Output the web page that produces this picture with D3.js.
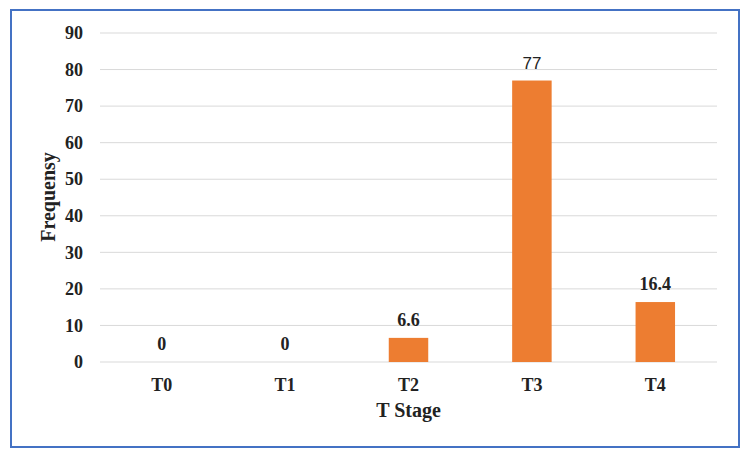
<!DOCTYPE html>
<html lang="en">
<head>
    <meta charset="UTF-8">
    <title>T Stage Frequency</title>
    <script src="https://d3js.org/d3.v7.min.js"></script>
    <style>
        body { margin: 0; background: #fff; }
        text { font-family: "Liberation Serif", "Times New Roman", serif; font-weight: bold; fill: #222; }
    </style>
</head>
<body>
<svg width="750" height="460"></svg>
<script type="text/javascript">
    // data
    var categories = ["T0", "T1", "T2", "T3", "T4"];
    var values = [0, 0, 6.6, 77, 16.4];
    var labels = ["0", "0", "6.6", "77", "16.4"];
    var yTicks = [0, 10, 20, 30, 40, 50, 60, 70, 80, 90];

    var svg = d3.select("svg");

    // outer frame
    svg.append("rect")
        .attr("x", 11).attr("y", 10)
        .attr("width", 728).attr("height", 437)
        .attr("fill", "none")
        .attr("stroke", "#4472C4")
        .attr("stroke-width", 2);

    var plotLeft = 100, plotRight = 717, plotTop = 33, plotBottom = 362;

    var x = d3.scaleBand()
        .domain(categories)
        .range([plotLeft, plotRight])
        .paddingInner(0.68)
        .paddingOuter(0.34);

    var y = d3.scaleLinear()
        .domain([0, 90])
        .range([plotBottom, plotTop]);

    // gridlines
    svg.append("g")
        .selectAll("line")
        .data(yTicks)
        .enter().append("line")
        .attr("x1", plotLeft).attr("x2", plotRight)
        .attr("y1", function(d) { return y(d); })
        .attr("y2", function(d) { return y(d); })
        .attr("stroke", "#d9d9d9")
        .attr("stroke-width", 1);

    // y axis labels
    var yAxis = svg.append("g")
        .attr("transform", "translate(" + plotLeft + ",0)")
        .call(d3.axisLeft(y).tickValues(yTicks).tickSize(0).tickPadding(17));
    yAxis.select(".domain").remove();
    yAxis.selectAll("text")
        .style("font-family", "Liberation Serif, serif")
        .style("font-weight", "bold")
        .style("font-size", "18px")
        .attr("fill", "#222");

    // bars
    svg.selectAll(".bar")
        .data(values)
        .enter().append("rect")
        .attr("class", "bar")
        .attr("x", function(d, i) { return x(categories[i]); })
        .attr("width", x.bandwidth())
        .attr("y", function(d) { return y(d); })
        .attr("height", function(d) { return y(0) - y(d); })
        .attr("fill", "#ED7D31");

    // value labels (the "77" label is set in a plain sans face in the original)
    svg.selectAll(".val")
        .data(values)
        .enter().append("text")
        .attr("class", "val")
        .attr("x", function(d, i) { return x(categories[i]) + x.bandwidth() / 2; })
        .attr("y", function(d) { return y(d) - 12; })
        .attr("text-anchor", "middle")
        .style("font-size", function(d, i) { return labels[i] === "77" ? "17px" : "18px"; })
        .style("font-family", function(d, i) { return labels[i] === "77" ? "Liberation Sans, Arial, sans-serif" : null; })
        .style("font-weight", function(d, i) { return labels[i] === "77" ? "normal" : null; })
        .text(function(d, i) { return labels[i]; });

    // x axis labels
    var xAxis = svg.append("g")
        .attr("transform", "translate(0," + plotBottom + ")")
        .call(d3.axisBottom(x).tickSize(0).tickPadding(16));
    xAxis.select(".domain").remove();
    xAxis.selectAll("text")
        .style("font-family", "Liberation Serif, serif")
        .style("font-weight", "bold")
        .style("font-size", "18px")
        .attr("fill", "#222");

    // axis titles
    svg.append("text")
        .attr("x", (plotLeft + plotRight) / 2)
        .attr("y", 417)
        .attr("text-anchor", "middle")
        .style("font-size", "20px")
        .text("T Stage");

    svg.append("text")
        .attr("transform", "translate(55,197) rotate(-90)")
        .attr("text-anchor", "middle")
        .style("font-size", "20px")
        .text("Frequensy");
</script>
</body>
</html>
